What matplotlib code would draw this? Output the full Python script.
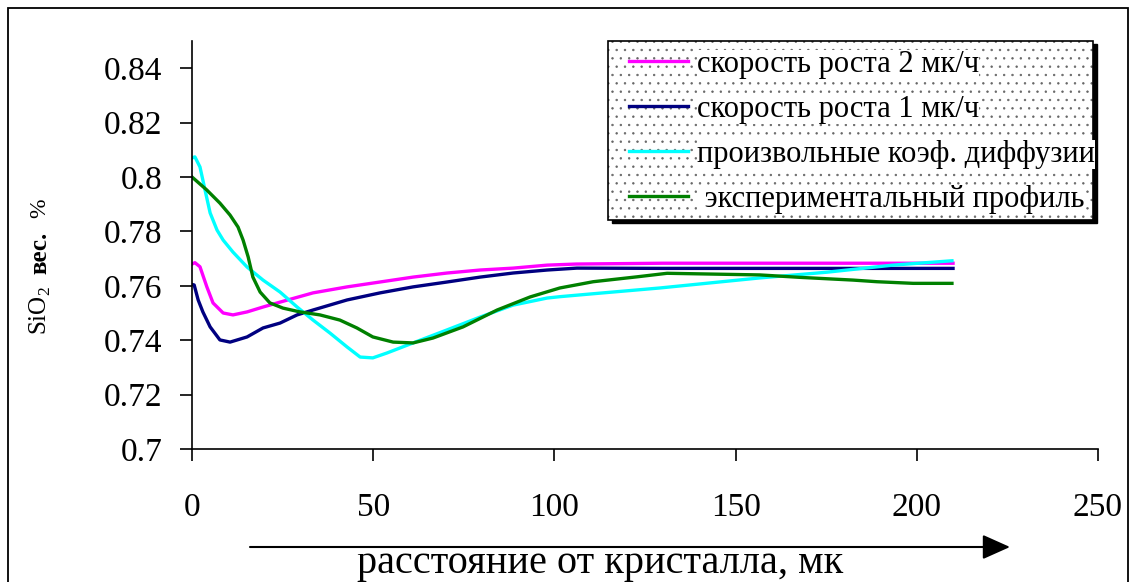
import matplotlib
matplotlib.use("Agg")
import matplotlib.pyplot as plt
from matplotlib.patches import Rectangle

plt.rcParams["font.family"] = ["Liberation Serif", "DejaVu Serif"]
plt.rcParams["mathtext.fontset"] = "custom"
plt.rcParams["mathtext.rm"] = "Liberation Serif"
plt.rcParams["hatch.linewidth"] = 0.5

# data
x_2mk = [0, 0.8, 2.2, 4.1, 5.8, 8.6, 11.3, 15.2, 19.6, 24.3, 33.4, 42.8, 51.9,
         61.0, 70.4, 79.5, 88.6, 98.0, 106, 130, 160, 190, 210]
y_2mk = [0.768, 0.7685, 0.767, 0.7596, 0.7537, 0.750, 0.7493, 0.7504, 0.7522,
         0.754, 0.7574, 0.7596, 0.7614, 0.7632, 0.7647, 0.7658, 0.7665, 0.7676,
         0.768, 0.7683, 0.7683, 0.7683, 0.7683]

x_1mk = [0, 0.6, 1.7, 3.0, 5.0, 7.7, 10.5, 15.2, 19.6, 24.3, 29.0, 33.4, 42.8,
         51.9, 61.0, 70.4, 79.5, 88.6, 98.0, 106.2, 130, 160, 190, 210]
y_1mk = [0.7605, 0.7603, 0.7548, 0.7504, 0.7449, 0.7401, 0.7393, 0.7412,
         0.7445, 0.7463, 0.7493, 0.7511, 0.7548, 0.7574, 0.7596, 0.7614,
         0.7632, 0.7647, 0.7658, 0.7665, 0.7664, 0.7664, 0.7664, 0.7664]

x_free = [0, 0.8, 2.2, 3.6, 5.0, 6.9, 8.6, 11.3, 15.2, 19.6, 24.3, 29.0, 33.4,
          38.1, 42.8, 46.4, 49.9, 53.8, 61.0, 70.4, 79.5, 88.6, 98.0, 101.5,
          110, 129.1, 156.7, 175.2, 193.4, 209.7]
y_free = [0.807, 0.8074, 0.8037, 0.7952, 0.7868, 0.7805, 0.7768, 0.7724,
          0.7669, 0.7621, 0.7577, 0.7522, 0.7474, 0.7426, 0.7375, 0.7338,
          0.7335, 0.7353, 0.739, 0.7438, 0.7485, 0.7529, 0.7555, 0.756, 0.757,
          0.7592, 0.7629, 0.765, 0.7676, 0.7692]

x_exp = [0, 4.1, 7.7, 10.5, 12.7, 14.1, 15.5, 16.8, 18.8, 21.5, 25.1, 29.8,
         35.3, 40.8, 45.5, 49.9, 55.5, 61.0, 66.5, 74.8, 84.2, 93.3, 101.5,
         110.7, 122.8, 131.1, 156.7, 167.8, 182.4, 189.0, 199.0, 209.7]
y_exp = [0.800, 0.7952, 0.7904, 0.786, 0.7816, 0.7768, 0.7706, 0.7632, 0.7577,
         0.7537, 0.7518, 0.7504, 0.7493, 0.7474, 0.7445, 0.7412, 0.7393,
         0.739, 0.7408, 0.7449, 0.7511, 0.7559, 0.7592, 0.7615, 0.7633,
         0.7646, 0.764, 0.7631, 0.7621, 0.7615, 0.7609, 0.7609]

labels = ["скорость роста 2 мк/ч", "скорость роста 1 мк/ч",
          "произвольные коэф. диффузии", " экспериментальный профиль"]
colors = ["#ff00ff", "#000080", "#00ffff", "#008000"]

xticks = [0, 50, 100, 150, 200, 250]
yticks = [0.7, 0.72, 0.74, 0.76, 0.78, 0.8, 0.82, 0.84]
ytick_labels = ["0.7", "0.72", "0.74", "0.76", "0.78", "0.8", "0.82", "0.84"]

W, H = 1135, 582
fig = plt.figure(figsize=(W / 100, H / 100), dpi=100)


def px(x, y):
    # figure pixel (from top-left) -> figure fraction
    return x / W, 1 - y / H


ax = fig.add_axes([192 / W, 1 - 449 / H, (1098 - 192) / W, (449 - 41) / H])

series = [(x_2mk, y_2mk), (x_1mk, y_1mk), (x_free, y_free), (x_exp, y_exp)]
lines = []
for (xs, ys), c, lab in zip(series, colors, labels):
    ln, = ax.plot(xs, ys, color=c, lw=2.4, label=lab)
    lines.append(ln)

ax.set_xlim(0, 250)
ax.set_ylim(0.7, 0.85)
ax.set_xticks(xticks)
ax.set_yticks(yticks)
ax.set_yticklabels(ytick_labels)
for s in ["top", "right"]:
    ax.spines[s].set_visible(False)
for s in ["left", "bottom"]:
    ax.spines[s].set_linewidth(1.2)
ax.tick_params(axis="both", direction="out", length=8.5, width=1.2,
               labelsize=24)
ax.tick_params(axis="y", pad=13)
ax.tick_params(axis="x", pad=23)

# y label: SiO2 вес. %
fig.text(*px(40, 311), r"SiO$_2$", rotation=90, ha="center", va="center",
         fontsize=18)
fig.text(*px(40, 253), "вес.", rotation=90, ha="center", va="center",
         fontsize=18, fontweight="bold")
fig.text(*px(40, 208), "%", rotation=90, ha="center", va="center",
         fontsize=17)

# x label with arrow
ax.annotate("", xy=px(1010, 547), xytext=px(250, 547),
            xycoords="figure fraction", textcoords="figure fraction",
            arrowprops=dict(arrowstyle="-|>,head_length=0.85,head_width=0.38",
                            lw=1.5, color="black", shrinkA=0, shrinkB=0,
                            mutation_scale=20))
fig.text(*px(600, 573), "расстояние от кристалла, мк", ha="center",
         va="baseline", fontsize=29)

# legend box with dotted fill and black shadow
lx0, ly0, lx1, ly1 = 608, 41, 1093, 220
fig.patches.append(Rectangle(px(lx0 + 4, ly1 + 3), (lx1 - lx0) / W,
                             (ly1 - ly0) / H, transform=fig.transFigure,
                             facecolor="black", edgecolor="black", zorder=5))
fig.patches.append(Rectangle(px(lx0, ly1), (lx1 - lx0) / W, (ly1 - ly0) / H,
                             transform=fig.transFigure, facecolor="white",
                             edgecolor="0.4", lw=0, hatch="..", zorder=6))
fig.patches.append(Rectangle(px(lx0, ly1), (lx1 - lx0) / W, (ly1 - ly0) / H,
                             transform=fig.transFigure, fill=False,
                             edgecolor="black", lw=1.2, zorder=6.5))
leg = fig.legend(handles=lines, loc="upper left", bbox_to_anchor=px(629, 50),
                 frameon=False, fontsize=22, borderpad=0, borderaxespad=0,
                 handlelength=1.93, handletextpad=0.3, labelspacing=0.52)
leg.set_zorder(7)
for t in leg.get_texts():
    t.set_bbox(dict(facecolor="white", edgecolor="none", pad=0))

# outer frame
fig.patches.append(Rectangle(px(8, 590), (1128 - 8) / W, (590 - 8) / H,
                             transform=fig.transFigure, fill=False,
                             edgecolor="black", lw=1.3, zorder=10))

fig.savefig("out.png", dpi=100)
